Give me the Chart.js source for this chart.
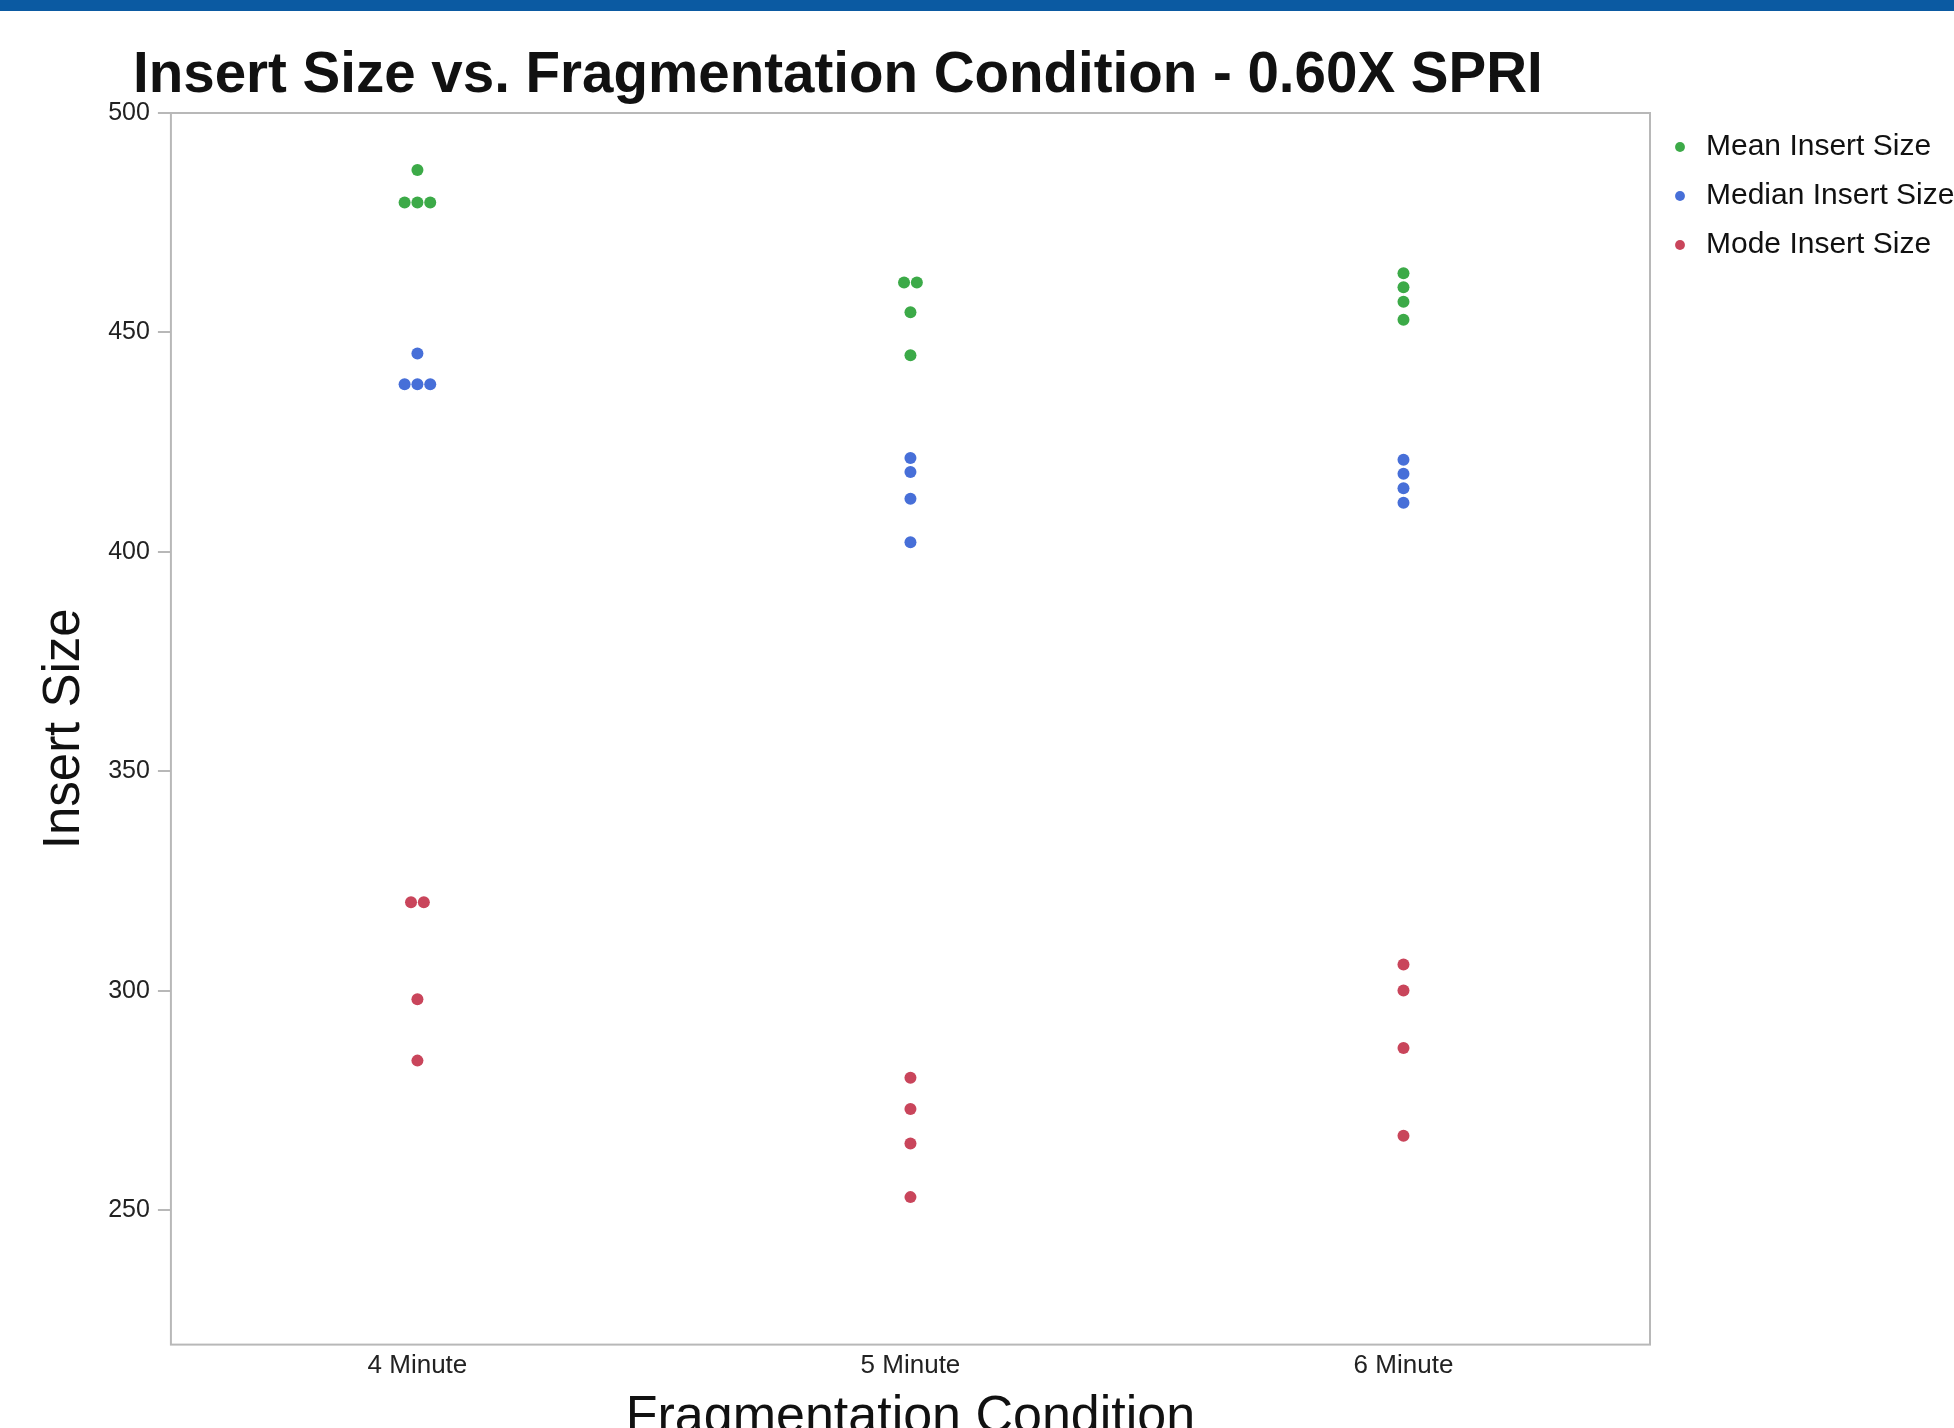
<!DOCTYPE html>
<html>
<head>
<meta charset="utf-8">
<script src="https://cdn.jsdelivr.net/npm/chart.js@4/dist/chart.umd.min.js"></script>
<style>
  html, body { margin: 0; padding: 0; background: #fff; overflow: hidden; }
  #bar { position: absolute; left: 0; top: 0; width: 1954px; height: 11px; background: #0b5aa2; }
  #title {
    position: absolute; left: 133px; top: 40px;
    font: bold 56.5px "Liberation Sans", Arial, sans-serif; color: #111;
    white-space: nowrap;
  }
  #wrap { position: absolute; left: 0; top: 0; width: 1954px; height: 1449px; }
</style>
</head>
<body>
<div id="bar"></div>
<div id="title">Insert Size vs. Fragmentation Condition - 0.60X SPRI</div>
<div id="wrap"><canvas id="insertChart"></canvas></div>
<script>
// DATA (values per category: 4, 5, 6 minute)

const categories = ["4 Minute", "5 Minute", "6 Minute"];

const meanSizes = [
    [487.0, 479.6, 479.6, 479.6],
    [461.4, 461.4, 454.6, 444.8],
    [463.5, 460.3, 457.0, 452.9]
];

const medianSizes = [
    [445.2, 438.2, 438.2, 438.2],
    [421.4, 418.2, 412.1, 402.2],
    [421.0, 417.8, 414.5, 411.2]
];

const modeSizes = [
    [320.2, 320.2, 298.1, 284.1],
    [280.2, 273.1, 265.2, 253.0],
    [306.0, 300.1, 287.0, 267.0]
];

const yTicks = [250, 300, 350, 400, 450, 500];

// spread equal values side by side (simple beeswarm)
const SWARM_STEP = 0.026;

function swarm(groups) {
    const pts = [];
    groups.forEach((vals, ci) => {
        const counts = {};
        vals.forEach(v => { counts[v] = (counts[v] || 0) + 1; });
        const seen = {};
        vals.forEach(v => {
            seen[v] = seen[v] === undefined ? 0 : seen[v] + 1;
            pts.push({ x: ci + (seen[v] - (counts[v] - 1) / 2) * SWARM_STEP, y: v });
        });
    });
    return pts;
}

// box around the plot area
const frame = {
    id: "frame",
    beforeDatasetsDraw(chart) {
        const a = chart.chartArea;
        const ctx = chart.ctx;
        ctx.save();
        ctx.strokeStyle = "#b8b8b8";
        ctx.lineWidth = 2;
        ctx.strokeRect(a.left, a.top, a.right - a.left, a.bottom - a.top);
        ctx.restore();
    }
};

const font = "'Liberation Sans', Arial, sans-serif";

function series(label, groups, color) {
    return {
        label: label,
        data: swarm(groups),
        backgroundColor: color,
        borderColor: color,
        borderWidth: 0,
        pointRadius: 6,
        pointHoverRadius: 6,
        pointStyle: "circle"
    };
}

new Chart(document.getElementById("insertChart"), {
    type: "scatter",
    data: {
        datasets: [
            series("Mean Insert Size", meanSizes, "#3caa48"),
            series("Median Insert Size", medianSizes, "#476fd8"),
            series("Mode Insert Size", modeSizes, "#c9455b")
        ]
    },
    plugins: [frame],
    options: {
        responsive: true,
        maintainAspectRatio: false,
        animation: false,
        layout: { padding: { top: 113, left: 30, right: 0, bottom: 0 } },
        scales: {
            x: {
                type: "linear",
                min: -0.5,
                max: 2.5,
                border: { display: false },
                grid: { display: false },
                afterBuildTicks: axis => {
                    axis.ticks = categories.map((c, i) => ({ value: i }));
                },
                ticks: {
                    padding: 0,
                    color: "#222",
                    font: { family: font, size: 26, lineHeight: 1.0 },
                    callback: v => categories[v]
                },
                title: {
                    display: true,
                    text: "Fragmentation Condition",
                    color: "#111",
                    font: { family: font, size: 52 },
                    padding: { top: 8, bottom: 0 }
                }
            },
            y: {
                type: "linear",
                min: 219.4,
                max: 500,
                border: { display: false },
                grid: {
                    display: true,
                    drawOnChartArea: false,
                    drawTicks: true,
                    tickLength: 13,
                    color: "#b8b8b8",
                    lineWidth: 2
                },
                afterBuildTicks: axis => {
                    axis.ticks = yTicks.map(v => ({ value: v }));
                },
                ticks: {
                    padding: 8,
                    color: "#222",
                    font: { family: font, size: 25 }
                },
                title: {
                    display: true,
                    text: "Insert Size",
                    color: "#111",
                    font: { family: font, size: 51 },
                    padding: { top: 4, bottom: 5 }
                }
            }
        },
        plugins: {
            title: { display: false },
            tooltip: { enabled: false },
            legend: {
                position: "right",
                align: "start",
                maxWidth: 304,
                labels: {
                    usePointStyle: true,
                    boxWidth: 22,
                    boxHeight: 7,
                    padding: 19,
                    color: "#111",
                    font: { family: font, size: 30 }
                }
            }
        }
    }
});
</script>
</body>
</html>
